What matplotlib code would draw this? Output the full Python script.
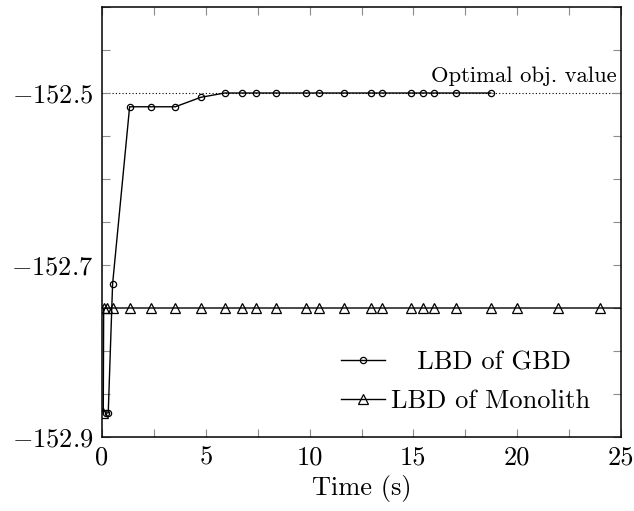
import matplotlib
matplotlib.use("Agg")
import matplotlib.pyplot as plt
from matplotlib.ticker import MultipleLocator

plt.rcParams['font.family'] = ['cmr10', 'DejaVu Serif']
plt.rcParams['mathtext.fontset'] = 'cm'
plt.rcParams['axes.formatter.use_mathtext'] = True

# ---- data ----
gbd_time = [0.19, 0.30, 0.51, 1.33, 2.35, 3.53, 4.76, 5.91, 6.75, 7.40, 8.38,
            9.83, 10.44, 11.66, 12.94, 13.50, 14.90, 15.46, 16.01, 17.05, 18.73]
gbd_lbd = [-152.872, -152.872, -152.722, -152.516, -152.516, -152.516, -152.505,
           -152.500, -152.500, -152.500, -152.500, -152.500, -152.500, -152.500,
           -152.500, -152.500, -152.500, -152.500, -152.500, -152.500, -152.500]

mono_time = [0.06, 0.08, 0.25, 0.51, 1.33, 2.35, 3.53, 4.76, 5.91, 6.75, 7.40, 8.38,
             9.83, 10.44, 11.66, 12.94, 13.50, 14.90, 15.46, 16.01, 17.05, 18.73,
             20.01, 21.97, 24.00, 26.00]
mono_lbd = [-152.872] + [-152.750] * 25

optimal_value = -152.5
optimal_label = "Optimal obj. value"

xticks = [0, 5, 10, 15, 20, 25]
xtick_labels = ["0", "5", "10", "15", "20", "25"]
yticks = [-152.9, -152.7, -152.5]
ytick_labels = [r"$-152.9$", r"$-152.7$", r"$-152.5$"]
xlabel = "Time (s)"
series_labels = ["   LBD of GBD", "LBD of Monolith"]

# ---- figure ----
fig = plt.figure(figsize=(6.34, 5.11), dpi=100)
ax = fig.add_axes([0.1609, 0.1448, 0.8186, 0.8415])

ax.axhline(optimal_value, color='black', lw=0.8, ls=(0, (1, 2)), zorder=1)
ax.text(0.992, optimal_value + 0.008, optimal_label, transform=ax.get_yaxis_transform(),
        ha='right', va='bottom', fontsize=16.3)

ax.plot(gbd_time, gbd_lbd, color='black', lw=1.0, marker='o', markersize=4.5,
        markerfacecolor='none', markeredgewidth=0.9, label=series_labels[0], zorder=3)
ax.plot(mono_time, mono_lbd, color='black', lw=1.0, marker='^', markersize=7,
        markerfacecolor='none', markeredgewidth=0.9, label=series_labels[1], zorder=3)

ax.set_xlim(0, 25)
ax.set_ylim(-152.9, -152.4)
ax.set_xticks(xticks, xtick_labels)
ax.set_yticks(yticks, ytick_labels)
ax.xaxis.set_minor_locator(MultipleLocator(2.5))
ax.yaxis.set_minor_locator(MultipleLocator(0.05))
ax.tick_params(which='both', direction='in', top=True, right=True,
               length=6, width=0.8, color='0.55', labelsize=19, pad=6)
ax.set_xlabel(xlabel, fontsize=19, labelpad=4)
for s in ax.spines.values():
    s.set_linewidth(1.1)

leg = ax.legend(loc='center', bbox_to_anchor=(0.70, 0.128), frameon=False,
                fontsize=19, handlelength=1.67, handletextpad=0.23, labelspacing=0.55,
                borderpad=0)

fig.savefig("out.png", dpi=100)
